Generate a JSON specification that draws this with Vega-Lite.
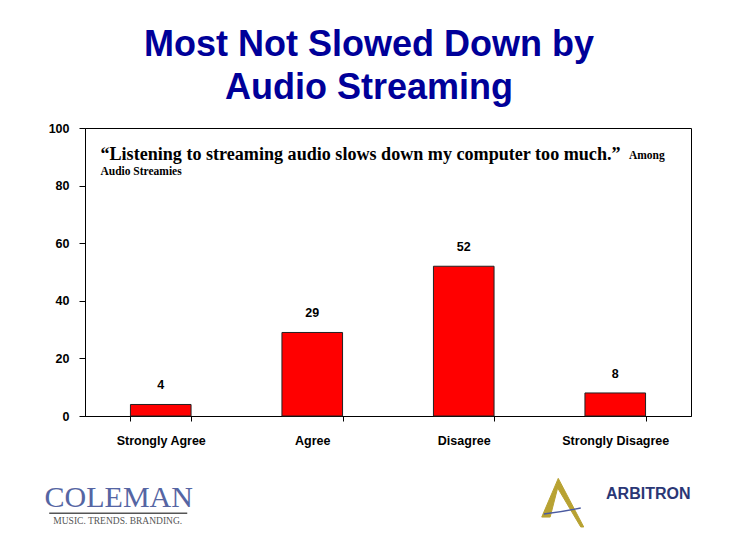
{
  "$schema": "https://vega.github.io/schema/vega-lite/v6.json",
  "width": 606,
  "height": 288,
  "autosize": "none",
  "padding": {"left": 85, "top": 128, "right": 47, "bottom": 132},
  "background": "white",
  "title": {
    "text": ["Most Not Slowed Down by", "Audio Streaming"],
    "font": "Liberation Sans",
    "fontSize": 36,
    "fontWeight": "bold",
    "color": "#000099",
    "anchor": "middle",
    "dx": -19,
    "offset": 15,
    "lineHeight": 43
  },
  "config": {"view": {"stroke": "black", "strokeWidth": 1}},
  "data": {
    "values": [
      {"response": "Strongly Agree", "pct": 4},
      {"response": "Agree", "pct": 29},
      {"response": "Disagree", "pct": 52},
      {"response": "Strongly Disagree", "pct": 8}
    ]
  },
  "layer": [
    {
      "mark": {"type": "bar", "fill": "#FF0000", "stroke": "#222222", "strokeWidth": 1},
      "encoding": {
        "x": {
          "field": "response",
          "type": "nominal",
          "sort": null,
          "scale": {"domain": ["Strongly Agree", "Agree", "Disagree", "Strongly Disagree"], "paddingInner": 0.6, "paddingOuter": 0.3},
          "axis": {
            "title": null,
            "labelAngle": 0,
            "labelFont": "Liberation Sans",
            "labelFontSize": 12.5,
            "labelFontWeight": "bold",
            "labelColor": "black",
            "labelPadding": 13,
            "tickBand": "extent",
            "tickSize": 5,
            "tickColor": "black",
            "domainColor": "black"
          }
        },
        "y": {
          "field": "pct",
          "type": "quantitative",
          "scale": {"domain": [0, 100], "nice": false},
          "axis": {
            "title": null,
            "values": [0, 20, 40, 60, 80, 100],
            "grid": false,
            "tickSize": 6,
            "tickColor": "black",
            "domainColor": "black",
            "labelFont": "Liberation Sans",
            "labelFontSize": 12.5,
            "labelFontWeight": "bold",
            "labelColor": "black",
            "labelPadding": 10
          }
        }
      }
    },
    {
      "mark": {"type": "text", "baseline": "bottom", "dy": -12, "font": "Liberation Sans", "fontSize": 12.5, "fontWeight": "bold", "color": "black"},
      "encoding": {
        "x": {"field": "response", "type": "nominal", "sort": null},
        "y": {"field": "pct", "type": "quantitative"},
        "text": {"field": "pct", "type": "quantitative"}
      }
    },
    {
      "data": {"values": [{}]},
      "mark": {"type": "text", "text": "“Listening to streaming audio slows down my computer too much.”", "align": "left", "baseline": "middle", "dx": -30, "font": "Liberation Serif", "fontSize": 18.1, "fontWeight": "bold", "color": "black"},
      "encoding": {
        "x": {"datum": "Strongly Agree", "bandPosition": 0},
        "y": {"datum": 90.6, "scale": {"domain": [0, 100], "nice": false}}
      }
    },
    {
      "data": {"values": [{}]},
      "mark": {"type": "text", "text": "Among", "align": "left", "baseline": "middle", "dx": 44, "dy": 1, "font": "Liberation Serif", "fontSize": 11.5, "fontWeight": "bold", "color": "black"},
      "encoding": {
        "x": {"datum": "Strongly Disagree", "bandPosition": 0},
        "y": {"datum": 90.6, "scale": {"domain": [0, 100], "nice": false}}
      }
    },
    {
      "data": {"values": [{}]},
      "mark": {"type": "text", "text": "Audio Streamies", "align": "left", "baseline": "middle", "dx": -30, "font": "Liberation Serif", "fontSize": 11.5, "fontWeight": "bold", "color": "black"},
      "encoding": {
        "x": {"datum": "Strongly Agree", "bandPosition": 0},
        "y": {"datum": 84.7, "scale": {"domain": [0, 100], "nice": false}}
      }
    },
    {
      "data": {"values": [{}]},
      "mark": {"type": "text", "text": "COLEMAN", "align": "center", "baseline": "middle", "dx": -42, "font": "Liberation Serif", "fontSize": 30, "color": "#5565a3"},
      "encoding": {
        "x": {"datum": "Strongly Agree"},
        "y": {"datum": -28.5, "scale": {"domain": [0, 100], "nice": false}}
      }
    },
    {
      "data": {"values": [{}]},
      "mark": {"type": "point", "shape": "M -1.549 0 L 0.368 0", "size": 20736, "filled": false, "stroke": "#555555", "strokeWidth": 1.5, "opacity": 1},
      "encoding": {
        "x": {"datum": "Strongly Agree"},
        "y": {"datum": -33.8, "scale": {"domain": [0, 100], "nice": false}}
      }
    },
    {
      "data": {"values": [{}]},
      "mark": {"type": "text", "text": "MUSIC.  TRENDS.  BRANDING.", "align": "center", "baseline": "middle", "dx": -43, "font": "Liberation Serif", "fontSize": 9.5, "color": "#555555"},
      "encoding": {
        "x": {"datum": "Strongly Agree"},
        "y": {"datum": -36.6, "scale": {"domain": [0, 100], "nice": false}}
      }
    },
    {
      "data": {"values": [{}]},
      "mark": {"type": "point", "shape": "M -2.45 0.47 L -1.9 -0.82 L -1.05 0.8 L -1.15 0.8 L -1.92 -0.5 L -2.17 0.47 Z", "size": 3600, "filled": true, "fill": "#b8a232", "stroke": "#b8a232", "strokeWidth": 1, "opacity": 1},
      "encoding": {
        "x": {"datum": "Strongly Disagree"},
        "y": {"datum": -30.2, "scale": {"domain": [0, 100], "nice": false}}
      }
    },
    {
      "data": {"values": [{}]},
      "mark": {"type": "point", "shape": "M -2.38 0.37 Q -1.8 0.3 -1.15 0.17", "size": 3600, "filled": false, "stroke": "#4a5aa0", "strokeWidth": 1.5, "opacity": 1},
      "encoding": {
        "x": {"datum": "Strongly Disagree"},
        "y": {"datum": -30.2, "scale": {"domain": [0, 100], "nice": false}}
      }
    },
    {
      "data": {"values": [{}]},
      "mark": {"type": "text", "text": "ARBITRON", "align": "center", "baseline": "middle", "dx": 33, "font": "Liberation Sans", "fontSize": 16, "fontWeight": "bold", "color": "#2a3775"},
      "encoding": {
        "x": {"datum": "Strongly Disagree"},
        "y": {"datum": -27, "scale": {"domain": [0, 100], "nice": false}}
      }
    }
  ]
}
